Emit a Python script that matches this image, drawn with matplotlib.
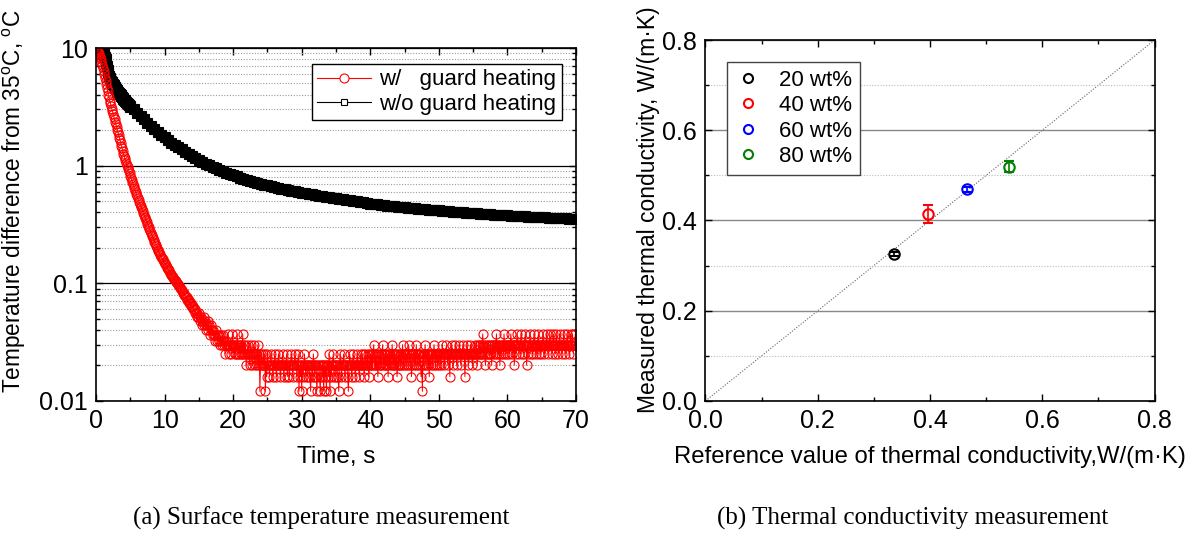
import numpy as np
import matplotlib
matplotlib.use('Agg')
import matplotlib.pyplot as plt
from matplotlib.lines import Line2D
from matplotlib.ticker import (LogLocator, MultipleLocator, NullFormatter,
                               FixedLocator, FormatStrFormatter)

plt.rcParams['font.family'] = ['Liberation Sans', 'DejaVu Sans']
plt.rcParams['mathtext.default'] = 'regular'

# ---- (a) surface temperature difference, log scale ----
# w/ guard heating: 0-4 s every 0.1 s
red_start = [9.6, 9.5, 9.4, 9.2, 9.0, 8.7, 8.4, 8.0, 7.6, 7.2,
             6.8, 6.4, 6.0, 5.6, 5.2, 4.9, 4.6, 4.3, 4.0, 3.8,
             3.55, 3.4, 3.2, 3.05, 2.9, 2.75, 2.6, 2.48, 2.36, 2.24,
             2.13, 2.02, 1.92, 1.82, 1.73, 1.64, 1.56, 1.48, 1.40, 1.33,
             1.26]
# 4.1-20 s every 0.1 s
red_mid = [1.21, 1.16, 1.11, 1.06, 1.02, 0.98, 0.94, 0.90, 0.86, 0.82,
           0.79, 0.76, 0.73, 0.70, 0.67, 0.645, 0.62, 0.595, 0.57, 0.55,
           0.53, 0.51, 0.49, 0.47, 0.455, 0.44, 0.425, 0.41, 0.395, 0.38,
           0.367, 0.355, 0.343, 0.331, 0.32, 0.309, 0.298, 0.288, 0.278, 0.268,
           0.259, 0.25, 0.242, 0.234, 0.226, 0.219, 0.212, 0.205, 0.199, 0.193,
           0.188, 0.183, 0.178, 0.173, 0.168, 0.164, 0.16, 0.156, 0.152, 0.148,
           0.145, 0.142, 0.138, 0.135, 0.132, 0.129, 0.126, 0.123, 0.12, 0.118,
           0.115, 0.113, 0.11, 0.108, 0.106, 0.104, 0.102, 0.1, 0.098, 0.097,
           0.095, 0.093, 0.091, 0.089, 0.087, 0.085, 0.083, 0.082, 0.08, 0.078,
           0.076, 0.072, 0.076, 0.072, 0.068, 0.072, 0.068, 0.064, 0.068, 0.064,
           0.060, 0.064, 0.060, 0.056, 0.060, 0.056, 0.052, 0.056, 0.052, 0.056,
           0.052, 0.048, 0.052, 0.048, 0.044, 0.048, 0.052, 0.044, 0.048, 0.044,
           0.040, 0.044, 0.048, 0.040, 0.044, 0.036, 0.040, 0.044, 0.040, 0.036,
           0.040, 0.036, 0.032, 0.036, 0.040, 0.036, 0.032, 0.036, 0.032, 0.036,
           0.030, 0.036, 0.032, 0.030, 0.036, 0.030, 0.032, 0.025, 0.030, 0.032,
           0.030, 0.037, 0.030, 0.025, 0.030, 0.030, 0.025, 0.030, 0.037, 0.030]
# 20.1-70 s every 0.1 s: quantised readings, given as index into red_levels
red_levels = [0.012, 0.016, 0.020, 0.025, 0.030, 0.037]
red_tail_idx = [
    4, 3, 4, 3, 4, 5, 3, 4, 3, 4, 3, 4, 3, 5, 3, 4, 3, 4, 2, 3, 3, 4, 3, 2, 3,
    4, 3, 2, 3, 4, 3, 2, 3, 3, 2, 4, 2, 3, 0, 2, 3, 2, 2, 3, 2, 3, 0, 2, 1, 3,
    2, 2, 1, 2, 3, 2, 2, 1, 2, 2, 3, 2, 1, 2, 2, 3, 2, 2, 1, 2, 2, 3, 2, 1, 2,
    2, 2, 3, 1, 2, 2, 1, 2, 2, 3, 2, 1, 2, 2, 3, 2, 2, 1, 2, 3, 0, 2, 1, 2, 0,
    2, 1, 2, 3, 2, 1, 2, 2, 1, 2, 2, 1, 0, 2, 2, 1, 3, 2, 1, 2, 2, 0, 1, 2, 2,
    1, 0, 2, 2, 1, 2, 0, 2, 1, 2, 0, 2, 2, 1, 3, 0, 2, 1, 2, 2, 3, 1, 2, 2, 1,
    2, 2, 1, 0, 2, 3, 2, 1, 2, 2, 3, 2, 1, 2, 2, 2, 1, 0, 2, 3, 2, 2, 1, 2, 3,
    2, 2, 1, 2, 2, 3, 2, 2, 1, 2, 3, 2, 2, 3, 2, 1, 2, 3, 2, 2, 3, 2, 1, 2, 3,
    2, 3, 2, 3, 4, 2, 3, 2, 2, 3, 1, 2, 3, 2, 3, 2, 3, 4, 2, 3, 2, 3, 2, 2, 3,
    1, 3, 2, 3, 2, 3, 4, 2, 3, 2, 3, 2, 3, 1, 2, 3, 2, 3, 2, 3, 2, 4, 3, 2, 3,
    3, 2, 3, 3, 2, 4, 3, 2, 3, 1, 2, 3, 3, 2, 3, 2, 4, 3, 2, 3, 3, 2, 3, 1, 2,
    0, 3, 2, 3, 4, 2, 3, 3, 2, 3, 1, 3, 2, 3, 3, 2, 3, 4, 3, 2, 3, 3, 2, 3, 2,
    3, 3, 2, 3, 4, 3, 3, 2, 3, 3, 4, 3, 2, 3, 3, 1, 3, 3, 4, 3, 2, 3, 3, 4, 3,
    2, 3, 3, 3, 4, 3, 2, 3, 3, 4, 3, 3, 1, 3, 3, 4, 3, 2, 3, 3, 4, 3, 3, 2, 3,
    3, 4, 3, 3, 4, 2, 3, 4, 3, 4, 3, 3, 4, 5, 3, 4, 3, 2, 4, 3, 4, 3, 4, 3, 3,
    4, 2, 4, 3, 4, 4, 3, 4, 5, 3, 4, 3, 4, 2, 4, 3, 4, 4, 3, 5, 4, 3, 4, 3, 4,
    4, 4, 3, 4, 5, 4, 3, 4, 4, 2, 4, 3, 4, 5, 4, 4, 3, 4, 4, 5, 3, 4, 4, 3, 4,
    5, 4, 2, 4, 3, 4, 4, 5, 3, 4, 4, 3, 4, 5, 4, 4, 3, 4, 4, 5, 3, 4, 4, 3, 4,
    4, 5, 4, 3, 4, 4, 5, 4, 3, 4, 4, 5, 4, 4, 3, 4, 5, 4, 4, 3, 5, 4, 4, 3, 4,
    5, 4, 4, 3, 4, 4, 5, 4, 3, 4, 4, 5, 4, 4, 3, 4, 5, 4, 4, 5, 3, 4, 4, 5, 4]
t_red = np.arange(len(red_start) + len(red_mid) + len(red_tail_idx)) * 0.1
v_red = red_start + red_mid + [red_levels[i] for i in red_tail_idx]

# w/o guard heating: 0-5 s every 0.1 s
black_start = [9.6, 9.6, 9.55, 9.5, 9.5, 9.45, 9.4, 9.3, 9.25, 9.15,
               9.05, 8.9, 8.7, 8.4, 8.0, 7.5, 7.0, 6.5, 6.1, 5.8,
               5.55, 5.4, 5.25, 5.1, 5.0, 4.9, 4.8, 4.7, 4.6, 4.5,
               4.42, 4.34, 4.26, 4.18, 4.1, 4.03, 3.96, 3.89, 3.82, 3.76,
               3.7, 3.64, 3.58, 3.52, 3.47, 3.42, 3.37, 3.32, 3.27, 3.21,
               3.15]
# 5.5-70 s every 0.5 s
black_tail = [3.0, 2.82, 2.64, 2.48, 2.32, 2.18, 2.05, 1.94, 1.83, 1.74,
              1.65, 1.57, 1.50, 1.43, 1.37, 1.31, 1.26, 1.21, 1.16, 1.12,
              1.08, 1.04, 1.01, 0.98, 0.95, 0.92, 0.895, 0.87, 0.845, 0.83,
              0.81, 0.79, 0.775, 0.76, 0.745, 0.73, 0.716, 0.703, 0.69, 0.678,
              0.667, 0.656, 0.645, 0.635, 0.626, 0.617, 0.608, 0.603, 0.596, 0.59,
              0.583, 0.576, 0.569, 0.562, 0.556, 0.55, 0.544, 0.538, 0.532, 0.526,
              0.521, 0.516, 0.511, 0.506, 0.501, 0.496, 0.492, 0.487, 0.479, 0.475,
              0.471, 0.467, 0.463, 0.46, 0.456, 0.453, 0.45, 0.447, 0.444, 0.441,
              0.438, 0.435, 0.432, 0.429, 0.427, 0.424, 0.422, 0.419, 0.417, 0.415,
              0.412, 0.41, 0.408, 0.406, 0.404, 0.402, 0.4, 0.398, 0.396, 0.394,
              0.392, 0.39, 0.388, 0.387, 0.385, 0.383, 0.382, 0.38, 0.379, 0.377,
              0.376, 0.374, 0.373, 0.371, 0.37, 0.368, 0.367, 0.366, 0.364, 0.363,
              0.362, 0.36, 0.359, 0.358, 0.357, 0.356, 0.355, 0.354, 0.353, 0.352]
t_black = np.concatenate([np.arange(len(black_start)) * 0.1,
                          5.5 + np.arange(len(black_tail)) * 0.5])
v_black = black_start + black_tail

# ---- (b) thermal conductivity ----
labels = ['20 wt%', '40 wt%', '60 wt%', '80 wt%']
k_ref = [0.335, 0.397, 0.4665, 0.541]
k_meas = [0.326, 0.415, 0.469, 0.519]
k_err = [0.005, 0.02, 0.005, 0.012]
colors = ['black', '#ff0000', '#0000ff', '#008000']

fig = plt.figure(figsize=(11.93, 5.47), dpi=100)
W, H = 1193, 547
ax1 = fig.add_axes([96 / W, 1 - 400.7 / H, 480 / W, 352.7 / H])
ax2 = fig.add_axes([705.4 / W, 1 - 401 / H, 449.2 / W, 361 / H])

# left panel
ax1.plot(t_black, v_black, color='black', lw=0.8, marker='s', ms=7,
         mfc='black', mec='black', mew=0.8)
ax1.plot(t_red, v_red, color='#ff0000', lw=0.7, marker='o', ms=6.5,
         mfc='none', mec='#ff0000', mew=0.8)
ax1.set_yscale('log')
ax1.set_xlim(0, 70)
ax1.set_ylim(0.01, 10)
ax1.xaxis.set_major_locator(MultipleLocator(10))
ax1.xaxis.set_minor_locator(MultipleLocator(5))
ax1.yaxis.set_major_locator(FixedLocator([0.01, 0.1, 1, 10]))
ax1.yaxis.set_minor_locator(LogLocator(base=10, subs=np.arange(2, 10)))
ax1.yaxis.set_minor_formatter(NullFormatter())
ax1.set_yticklabels(['0.01', '0.1', '1', '10'])
ax1.grid(which='major', axis='y', color='black', lw=0.9, ls='-')
ax1.grid(which='minor', axis='y', color='#999999', lw=0.8, ls=(0, (1, 1.5)))
ax1.tick_params(which='both', direction='in', top=True, right=True,
                labelsize=18, width=1)
ax1.tick_params(which='major', length=5, pad=6)
ax1.tick_params(which='minor', length=3)
ax1.set_xlabel('Time, s', fontsize=17.5, labelpad=9)
ax1.set_ylabel('Temperature difference from 35$^{o}$C, $^{o}$C', fontsize=16.3)
ax1.yaxis.set_label_coords(-0.142, 0.565)
for sp in ax1.spines.values():
    sp.set_linewidth(1.2)

h1 = [Line2D([], [], color='#ff0000', lw=0.8, marker='o', ms=6.5, mfc='white',
             mec='#ff0000', mew=0.8),
      Line2D([], [], color='black', lw=0.8, marker='s', ms=5, mfc='white',
             mec='black', mew=0.8)]
leg1 = ax1.legend(h1, ['w/   guard heating', 'w/o guard heating'],
                  loc='upper right', bbox_to_anchor=(0.971, 0.955),
                  borderaxespad=0, fontsize=16, fancybox=False, framealpha=1,
                  edgecolor='black', handlelength=2.4, handletextpad=0.4,
                  labelspacing=0.15, borderpad=0.25)
leg1.get_frame().set_linewidth(1)

# right panel
ax2.axline((0, 0), slope=1, color='#666666', lw=0.8, ls=(0, (1, 1.5)), zorder=1)
for x, y, e, c in zip(k_ref, k_meas, k_err, colors):
    ax2.errorbar(x, y, yerr=e, fmt='o', ms=7.5, mfc='none', mec=c, mew=1.5,
                 ecolor=c, elinewidth=1.2, capsize=3.5, capthick=1.2, zorder=3)
ax2.set_xlim(0, 0.8)
ax2.set_ylim(0, 0.8)
ax2.xaxis.set_major_locator(MultipleLocator(0.2))
ax2.xaxis.set_minor_locator(MultipleLocator(0.1))
ax2.yaxis.set_major_locator(MultipleLocator(0.2))
ax2.yaxis.set_minor_locator(MultipleLocator(0.1))
ax2.xaxis.set_major_formatter(FormatStrFormatter('%.1f'))
ax2.yaxis.set_major_formatter(FormatStrFormatter('%.1f'))
ax2.grid(which='major', axis='y', color='#888888', lw=1, ls='-')
ax2.grid(which='minor', axis='y', color='#bbbbbb', lw=0.8, ls=(0, (1, 1.5)))
ax2.tick_params(which='both', direction='in', top=True, right=True,
                labelsize=18, width=1)
ax2.tick_params(which='major', length=5, pad=6)
ax2.tick_params(which='minor', length=3)
ax2.set_xlabel('Reference value of thermal conductivity,W/(m\u00b7K)',
               fontsize=17.2, labelpad=9)
ax2.set_ylabel('Measured thermal conductivity, W/(m\u00b7K)', fontsize=16.5)
ax2.yaxis.set_label_coords(-0.1, 0.53)
for sp in ax2.spines.values():
    sp.set_linewidth(1.2)

h2 = [Line2D([], [], ls='none', marker='o', ms=6.5, mfc='none', mec=c, mew=1.5)
      for c in colors]
leg2 = ax2.legend(h2, labels, loc='upper left', bbox_to_anchor=(0.048, 0.939),
                  borderaxespad=0, fontsize=16, fancybox=False, framealpha=1,
                  edgecolor='#444444', handlelength=1.2, handletextpad=0.8,
                  labelspacing=0.2, borderpad=0.35)
leg2.get_frame().set_linewidth(1)

fig.text(321 / W, 1 - 518 / H, '(a) Surface temperature measurement',
         ha='center', va='center', family='Liberation Serif', fontsize=18)
fig.text(913 / W, 1 - 518 / H, '(b) Thermal conductivity measurement',
         ha='center', va='center', family='Liberation Serif', fontsize=18)

fig.savefig('out.png', dpi=100)
